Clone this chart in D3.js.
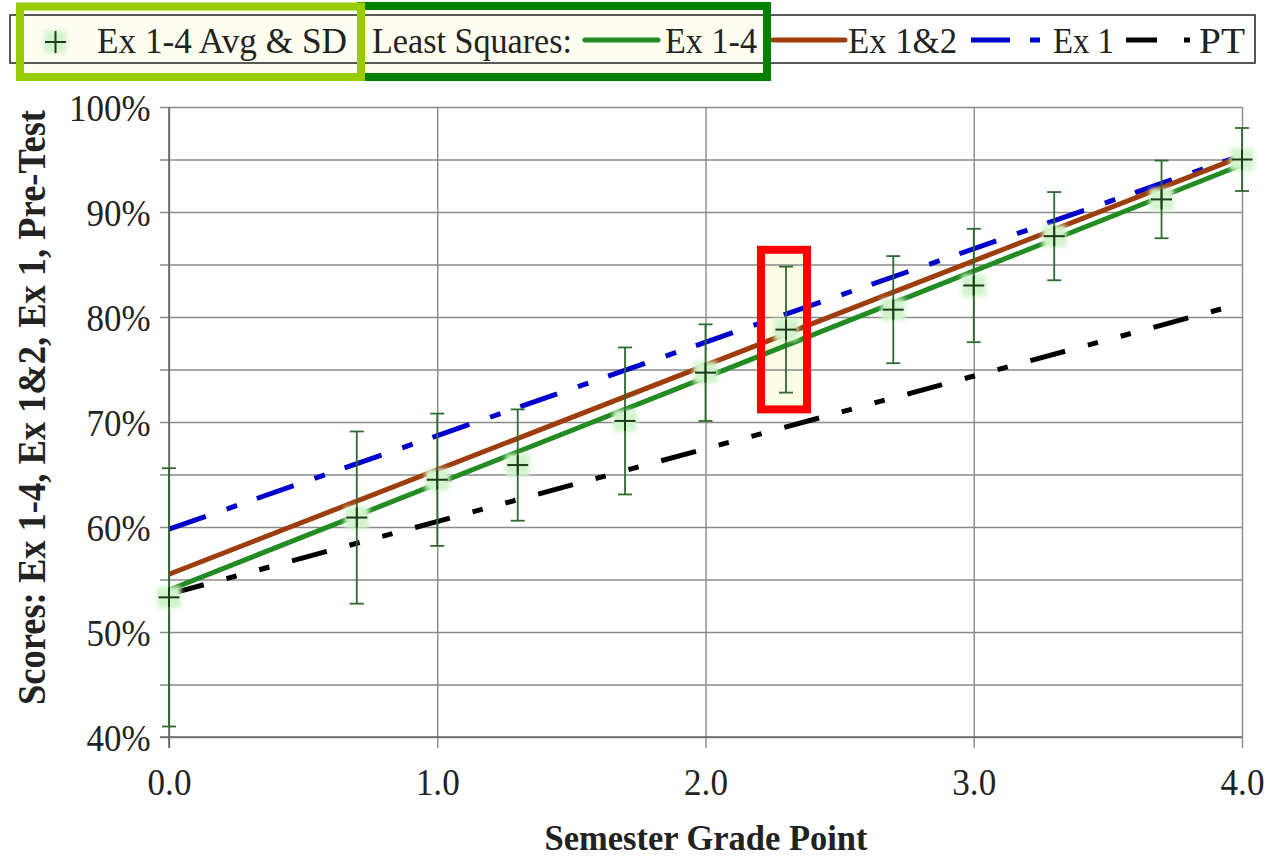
<!DOCTYPE html>
<html><head><meta charset="utf-8">
<script src="https://cdn.jsdelivr.net/npm/d3@7"></script>
<style>
body{margin:0;background:#fff}
svg{display:block}
text{font-family:"Liberation Serif","Times New Roman",serif;fill:#222}
</style>
</head><body>
<svg id="c" width="1281" height="859"></svg>
<script>
// ---- data ----
const gradePoints = [0.0, 0.7, 1.0, 1.3, 1.7, 2.0, 2.3, 2.7, 3.0, 3.3, 3.7, 4.0];
const avgScores   = [0.533, 0.609, 0.645, 0.659, 0.701, 0.747, 0.788, 0.807, 0.830, 0.877, 0.912, 0.950];
const sdScores    = [0.123, 0.082, 0.063, 0.053, 0.070, 0.046, 0.060, 0.051, 0.054, 0.042, 0.037, 0.030];
const fitX     = [0, 4];
const fitEx14  = [0.540, 0.945];
const fitEx12  = [0.555, 0.953];
const fitEx1   = [0.598, 0.954];
const fitPT    = [0.536, 0.813];
const yTickValues = [0.4, 0.5, 0.6, 0.7, 0.8, 0.9, 1.0];
const yGridValues = [0.40, 0.45, 0.50, 0.55, 0.60, 0.65, 0.70, 0.75, 0.80, 0.85, 0.90, 0.95, 1.00];
const xTickValues = [0, 1, 2, 3, 4];
const highlightX = 2.3;
const highlightRange = [0.712, 0.864];
const legendLabels = ["Ex 1-4 Avg & SD", "Least Squares:", "Ex 1-4", "Ex 1&2", "Ex 1", "PT"];
const xTitle = "Semester Grade Point";
const yTitle = "Scores: Ex 1-4, Ex 1&2, Ex 1, Pre-Test";

// ---- layout ----
const L = 169, R = 1242, T = 107, B = 737;
const x = d3.scaleLinear().domain([0, 4]).range([L, R]);
const y = d3.scaleLinear().domain([0.4, 1.0]).range([B, T]);
const svg = d3.select("#c");
const defs = svg.append("defs");
defs.append("filter").attr("id","glow").attr("x","-50%").attr("y","-50%").attr("width","200%").attr("height","200%")
  .append("feGaussianBlur").attr("stdDeviation", 2.2);

// legend background and annotation fills
svg.append("rect").attr("x",10).attr("y",15).attr("width",1245).attr("height",48).attr("fill","#fff");
svg.append("rect").attr("x",20).attr("y",6.5).attr("width",747).attr("height",70.5).attr("fill","#fdfdf0");

// red highlight fill
const hx0 = x(highlightX) - 25, hx1 = x(highlightX) + 21;
const hy0 = y(highlightRange[1]), hy1 = y(highlightRange[0]);
svg.append("rect").attr("x",hx0).attr("y",hy0).attr("width",hx1-hx0).attr("height",hy1-hy0).attr("fill","#fcfce4");

// gridlines
const gridColor = "#8a8a8a";
const gy = svg.append("g").attr("transform",`translate(${L},0)`)
  .call(d3.axisLeft(y).tickValues(yGridValues).tickSize(-(R-L)).tickSizeOuter(0).tickFormat(""));
gy.selectAll(".tick line").attr("stroke",gridColor).attr("stroke-width",1.4).attr("x1",-(R-L)).attr("x2",9)
  .attr("transform",`scale(-1,1)`);
gy.select(".domain").remove();
const gx = svg.append("g").attr("transform",`translate(0,${B})`)
  .call(d3.axisBottom(x).tickValues(xTickValues).tickSize(-(B-T)).tickSizeOuter(0).tickFormat(""));
gx.selectAll(".tick line").attr("stroke",gridColor).attr("stroke-width",1.4).attr("y1",11).attr("y2",-(B-T));
gx.select(".domain").remove();
// axis lines
svg.append("line").attr("x1",L).attr("x2",L).attr("y1",T).attr("y2",B+11).attr("stroke","#666").attr("stroke-width",1.6);
svg.append("line").attr("x1",L-9).attr("x2",R).attr("y1",B).attr("y2",B).attr("stroke","#666").attr("stroke-width",1.6);

// tick labels through axes
const yl = svg.append("g").attr("transform",`translate(${L},0)`)
  .call(d3.axisLeft(y).tickValues(yTickValues).tickSize(0).tickPadding(20).tickFormat(d3.format(".0%")));
yl.select(".domain").remove();
yl.selectAll("text").attr("font-size",38).attr("fill","#333")
  .attr("transform","scale(0.92,1)").attr("dy","0.35em");
const xl = svg.append("g").attr("transform",`translate(0,${B})`)
  .call(d3.axisBottom(x).tickValues(xTickValues).tickSize(0).tickPadding(0).tickFormat(d3.format(".1f")));
xl.select(".domain").remove();
xl.selectAll("text").attr("font-size",39).attr("fill","#333")
  .attr("transform","scale(0.9,1)").attr("y",58).attr("dy",0);

// axis titles
svg.append("text").attr("x",706).attr("y",850).attr("text-anchor","middle").attr("font-size",36)
  .attr("font-weight","bold").attr("textLength",323).attr("lengthAdjust","spacingAndGlyphs").text(xTitle);
svg.append("text").attr("transform","translate(45,407.5) rotate(-90)").attr("text-anchor","middle")
  .attr("font-size",39).attr("font-weight","bold").attr("textLength",595).attr("lengthAdjust","spacingAndGlyphs").text(yTitle);

// fit lines
const line = d3.line().x(d => x(d[0])).y(d => y(d[1]));
const fits = [
  {v: fitPT,   color:"#000000", dash:"36,23.5,10.5,23.5,10.5,23.5"},
  {v: fitEx1,  color:"#0000cc", dash:"39,22,11,21"},
  {v: fitEx12, color:"#9e3d0c", dash:null},
  {v: fitEx14, color:"#228b22", dash:null}
];
fits.forEach(f => {
  svg.append("path").datum(fitX.map((xv,i)=>[xv,f.v[i]])).attr("d",line)
    .attr("fill","none").attr("stroke",f.color).attr("stroke-width",5)
    .attr("stroke-dasharray",f.dash);
});

// markers with glow, error bars
const pts = gradePoints.map((g,i)=>({g, m:avgScores[i], s:sdScores[i]}));
const mg = svg.append("g");
mg.selectAll("rect.glow").data(pts).join("rect").attr("class","glow")
  .attr("x",d=>x(d.g)-12).attr("y",d=>y(d.m)-11).attr("width",24).attr("height",22)
  .attr("fill","#d2f4cc").attr("filter","url(#glow)");
mg.selectAll("line.eb").data(pts).join("line").attr("class","eb")
  .attr("x1",d=>x(d.g)).attr("x2",d=>x(d.g)).attr("y1",d=>y(d.m+d.s)).attr("y2",d=>y(d.m-d.s))
  .attr("stroke","#2f6a2f").attr("stroke-width",1.8);
mg.selectAll("line.capT").data(pts).join("line").attr("class","capT")
  .attr("x1",d=>x(d.g)-7).attr("x2",d=>x(d.g)+7).attr("y1",d=>y(d.m+d.s)).attr("y2",d=>y(d.m+d.s))
  .attr("stroke","#2f6a2f").attr("stroke-width",1.8);
mg.selectAll("line.capB").data(pts).join("line").attr("class","capB")
  .attr("x1",d=>x(d.g)-7).attr("x2",d=>x(d.g)+7).attr("y1",d=>y(d.m-d.s)).attr("y2",d=>y(d.m-d.s))
  .attr("stroke","#2f6a2f").attr("stroke-width",1.8);
mg.selectAll("line.ph").data(pts).join("line").attr("class","ph")
  .attr("x1",d=>x(d.g)-10.5).attr("x2",d=>x(d.g)+10.5).attr("y1",d=>y(d.m)).attr("y2",d=>y(d.m))
  .attr("stroke","#1c3c1c").attr("stroke-width",2);
mg.selectAll("line.pv").data(pts).join("line").attr("class","pv")
  .attr("x1",d=>x(d.g)).attr("x2",d=>x(d.g)).attr("y1",d=>y(d.m)-10).attr("y2",d=>y(d.m)+10)
  .attr("stroke","#1c3c1c").attr("stroke-width",2);

// red highlight stroke
svg.append("rect").attr("x",hx0).attr("y",hy0).attr("width",hx1-hx0).attr("height",hy1-hy0)
  .attr("fill","none").attr("stroke","#ff0000").attr("stroke-width",8);

// legend
svg.append("rect").attr("x",10).attr("y",15).attr("width",1245).attr("height",48)
  .attr("fill","none").attr("stroke","#222").attr("stroke-width",1.5);
const lg = svg.append("g");
lg.append("rect").attr("x",44).attr("y",31).attr("width",22).attr("height",22).attr("fill","#d2f4cc").attr("filter","url(#glow)");
lg.append("line").attr("x1",45).attr("x2",66).attr("y1",42).attr("y2",42).attr("stroke","#1c3c1c").attr("stroke-width",2);
lg.append("line").attr("x1",55.5).attr("x2",55.5).attr("y1",31).attr("y2",53).attr("stroke","#1c3c1c").attr("stroke-width",2);
const legText = [[97,250],[372,200],[665,92],[848,109],[1053,61],[1199,46]];
legendLabels.forEach((t,i)=>{
  lg.append("text").attr("x",legText[i][0]).attr("y",53).attr("font-size",35)
    .attr("textLength",legText[i][1]).attr("lengthAdjust","spacingAndGlyphs").text(t);
});
const legLines = [
  {x0:585, x1:658, color:"#228b22", dash:null, cap:"round"},
  {x0:773, x1:845, color:"#9e3d0c", dash:null, cap:"round"},
  {x0:971, x1:1040, color:"#0000cc", dash:"39,20,10", cap:"butt"},
  {x0:1126, x1:1190, color:"#000000", dash:"31,27,6", cap:"butt"}
];
legLines.forEach(l=>{
  lg.append("line").attr("x1",l.x0).attr("x2",l.x1).attr("y1",40).attr("y2",40)
    .attr("stroke",l.color).attr("stroke-width",5).attr("stroke-dasharray",l.dash).attr("stroke-linecap",l.cap);
});

// annotation boxes (dark green first, then light green)
svg.append("rect").attr("x",361).attr("y",6).attr("width",406).attr("height",71)
  .attr("fill","none").attr("stroke","#008000").attr("stroke-width",8);
svg.append("rect").attr("x",20).attr("y",6.5).attr("width",341).attr("height",70.5)
  .attr("fill","none").attr("stroke","#99cc00").attr("stroke-width",8);
</script>
</body></html>
